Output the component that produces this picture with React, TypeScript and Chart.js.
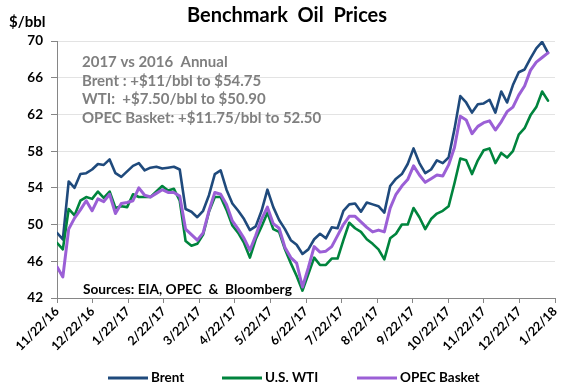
import React, { useEffect, useRef } from "react";
import { Chart, registerables } from "chart.js";

Chart.register(...registerables);

// Month tick labels (evenly spaced on the axis)
const tickLabels = [
  "11/22/16", "12/22/16", "1/22/17", "2/22/17", "3/22/17", "4/22/17", "5/22/17",
  "6/22/17", "7/22/17", "8/22/17", "9/22/17", "10/22/17", "11/22/17", "12/22/17", "1/22/18",
];
const spanDays = 426; // 11/22/16 -> 1/22/18
const stepDays = 5; // sampling step of the series below

const brent = [
  49.1, 48.4, 54.7, 54.0, 55.5, 55.6, 56.0, 56.6, 56.5, 57.1,
  55.6, 55.2, 55.8, 56.4, 56.7, 55.9, 56.2, 56.3, 56.1, 56.2,
  56.3, 56.0, 51.7, 51.4, 50.8, 51.5, 53.2, 55.5, 55.9, 53.8,
  52.3, 51.5, 50.6, 49.4, 49.8, 51.5, 53.8, 51.9, 50.5, 49.5,
  48.3, 47.8, 46.8, 47.3, 48.4, 49.0, 48.5, 49.7, 49.6, 51.5,
  52.2, 52.3, 51.4, 52.4, 52.2, 52.0, 51.3, 54.2, 55.0, 55.5,
  56.6, 58.3, 56.7, 55.6, 56.0, 57.0, 56.7, 57.3, 60.4, 64.0,
  63.3, 62.2, 63.1, 63.2, 63.6, 62.2, 64.5, 63.3, 65.2, 66.6,
  66.9, 68.1, 69.2, 69.9, 68.7,
];
const wti = [
  48.0, 47.3, 51.7, 51.0, 52.6, 53.0, 52.8, 53.6, 52.9, 53.6,
  51.8, 52.0, 51.9, 53.3, 53.0, 53.0, 53.0, 53.6, 54.2, 53.7,
  53.9, 52.6, 48.2, 47.7, 47.9, 48.9, 51.4, 53.0, 53.0, 51.6,
  49.9, 49.1, 48.0, 46.4, 48.4, 49.8, 51.3, 49.5, 49.2, 47.3,
  45.8, 44.4, 42.8, 44.6, 46.4, 45.6, 45.6, 46.3, 46.3, 48.3,
  50.2, 49.6, 49.2, 48.4, 47.9, 47.3, 46.2, 48.5, 49.0, 50.0,
  50.0, 51.8, 50.8, 49.5, 50.6, 51.2, 51.5, 52.0, 54.5, 57.2,
  57.0, 55.5, 57.0, 58.1, 58.3, 56.7, 57.8, 57.3, 58.0, 59.8,
  60.5, 61.9, 62.8, 64.5, 63.5,
];
const opec = [
  45.4, 44.3, 49.5, 50.7, 51.6, 52.6, 51.5, 52.8, 52.5, 53.3,
  51.2, 52.3, 52.4, 52.6, 54.0, 53.2, 53.0, 53.4, 53.8, 53.5,
  53.5, 53.1, 49.5, 48.9, 48.3, 49.1, 51.5, 53.5, 53.3, 52.2,
  50.4, 49.5, 48.5, 47.2, 48.8, 50.6, 51.9, 50.1, 49.6, 47.5,
  46.4, 45.8, 43.2, 45.3, 47.6, 47.0, 47.1, 47.6, 48.8, 50.0,
  50.9, 50.9, 50.3, 49.7, 49.2, 49.4, 49.2, 51.8, 53.3, 54.2,
  54.9, 56.4, 55.4, 54.6, 55.0, 55.4, 55.3, 56.5, 58.4, 61.8,
  61.4, 59.9, 60.7, 61.1, 61.3, 60.3, 61.2, 62.3, 62.8, 64.1,
  65.1, 66.8, 67.7, 68.2, 68.7,
];

const seriesNames = ["Brent", "U.S. WTI", "OPEC Basket"];
const seriesColors = ["#1F4A7C", "#00843D", "#9B5FD6"];
const titleText = "Benchmark  Oil  Prices";
const unitText = "$/bbl";
const notes = [
  "2017 vs 2016  Annual",
  "Brent : +$11/bbl to $54.75",
  "WTI:  +$7.50/bbl to $50.90",
  "OPEC Basket: +$11.75/bbl to 52.50",
];
const sourceText = "Sources: EIA, OPEC  &  Bloomberg";

const FONT = "Lato, 'Open Sans', sans-serif";

const toPoints = (arr: number[]) => arr.map((y, i) => ({ x: i * stepDays, y }));

const textPlugin = {
  id: "texts",
  afterDraw(chart: any) {
    const ctx = chart.ctx as CanvasRenderingContext2D;
    ctx.save();
    ctx.textBaseline = "middle";
    // title
    ctx.fillStyle = "#000";
    ctx.textAlign = "center";
    ctx.font = `bold 20px ${FONT}`;
    ctx.fillText(titleText, 287, 16);
    // unit
    ctx.textAlign = "left";
    ctx.font = `bold 15px ${FONT}`;
    ctx.fillText(unitText, 9, 22);
    // notes
    ctx.fillStyle = "#7F7F7F";
    ctx.font = `bold 15px ${FONT}`;
    const noteY = [62, 81, 99, 118];
    notes.forEach((t, i) => ctx.fillText(t, 82, noteY[i]));
    // sources
    ctx.fillStyle = "#000";
    ctx.font = `bold 13.7px ${FONT}`;
    ctx.fillText(sourceText, 83, 290);
    // legend
    const legX = [108, 222, 357];
    const ly = 378;
    ctx.font = `bold 13.5px ${FONT}`;
    seriesNames.forEach((name, i) => {
      ctx.strokeStyle = seriesColors[i];
      ctx.lineWidth = 3;
      ctx.beginPath();
      ctx.moveTo(legX[i], ly);
      ctx.lineTo(legX[i] + 40, ly);
      ctx.stroke();
      ctx.fillStyle = "#000";
      ctx.fillText(name, legX[i] + 43, ly);
    });
    ctx.restore();
  },
};

export default function App() {
  const ref = useRef<HTMLCanvasElement | null>(null);
  useEffect(() => {
    document.body.style.margin = "0";
    if (!ref.current) return;
    const series = [brent, wti, opec];
    const chart = new Chart(ref.current, {
      type: "line",
      data: {
        datasets: series.map((s, i) => ({
          label: seriesNames[i],
          data: toPoints(s),
          borderColor: seriesColors[i],
          backgroundColor: seriesColors[i],
          borderWidth: i === 2 ? 3 : 2.6,
          pointRadius: 0,
          tension: 0,
          fill: false,
          order: 2 - i,
        })),
      },
      options: {
        responsive: false,
        animation: false,
        layout: { padding: { left: 0, right: 21, top: 41, bottom: 0 } },
        plugins: {
          legend: { display: false },
          title: { display: false },
          tooltip: { enabled: false },
        },
        elements: { line: { borderJoinStyle: "round", borderCapStyle: "round" } },
        scales: {
          x: {
            type: "linear",
            min: 0,
            max: spanDays,
            afterBuildTicks: (s: any) => {
              s.ticks = tickLabels.map((_, k) => ({ value: (k * spanDays) / (tickLabels.length - 1) }));
            },
            afterFit: (s: any) => {
              s.height = 92;
            },
            ticks: {
              autoSkip: false,
              minRotation: 45,
              maxRotation: 45,
              padding: 1,
              color: "#000",
              font: { family: FONT, weight: "bold", size: 12.5 },
              callback: (_v: any, i: number) => tickLabels[i],
            },
            grid: { drawOnChartArea: false, tickLength: 5, color: "#868686", tickColor: "#868686" },
            border: { color: "#868686" },
          },
          y: {
            min: 42,
            max: 70,
            afterFit: (s: any) => {
              s.width = 57;
            },
            ticks: {
              stepSize: 4,
              padding: 8,
              color: "#000",
              font: { family: FONT, weight: "bold", size: 13.5 },
            },
            grid: { color: "#E3E3E3", tickColor: "#868686", tickLength: 6 },
            border: { color: "#868686" },
          },
        },
      },
      plugins: [textPlugin],
    } as any);
    return () => chart.destroy();
  }, []);
  return <canvas ref={ref} width={576} height={390} style={{ display: "block" }} />;
}
